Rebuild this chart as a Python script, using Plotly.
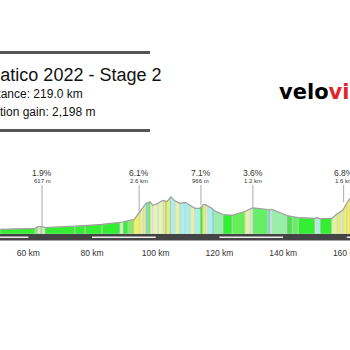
import plotly.graph_objects as go

# ---------------- data ----------------
km = [51.1, 62.1, 63.0, 63.7, 64.3, 65.2, 74.6, 77.8, 83.1, 88.8, 89.7, 91.3, 93.2, 95.1,
      96.0, 96.9, 97.6, 98.2, 99.1, 100.7, 102.3, 102.9, 103.5, 104.5, 104.8, 106.0, 107.6,
      109.2, 110.8, 112.3, 113.9, 114.8, 115.5, 116.4, 117.7, 118.3, 121.1, 124.0, 128.0,
      129.6, 130.5, 135.2, 135.9, 136.5, 141.2, 142.8, 144.7, 150.0, 150.6, 151.6, 155.3,
      156.9, 157.8, 158.8, 160.0, 161.0]
elev = [56, 68, 88, 90, 89, 78, 92, 101, 115, 140, 144, 161, 173, 272, 324, 366, 376, 386,
        344, 368, 404, 398, 388, 432, 446, 398, 368, 380, 348, 308, 308, 348, 354, 336, 306,
        282, 234, 224, 270, 300, 314, 294, 288, 296, 222, 210, 197, 188, 197, 185, 188, 240,
        264, 288, 372, 428]

BG, LG, PL, Y, PY, PY2 = "#33ee33", "#88e86a", "#d4eec4", "#f0f060", "#e4f2a6", "#e8f2bb"
C, C2, MG, G, G2, G3, LG2 = "#5cdada", "#a8f0ec", "#99eeaa", "#5ee85e", "#66ee55", "#50dd50", "#66ee66"
seg_colors = [BG, LG, PL, LG, PL, BG, BG, BG, BG, PL, BG, LG, Y, PY, Y, C, G, PY, PY2, PY2,
              Y, LG, Y, C, C2, PY, C2, C2, PY, C2, BG, Y, PL, C2, C, MG, BG, G2, PY, PL,
              LG2, C, PL, MG, G3, LG2, BG, PL, C2, BG, PY, Y, PL, Y, Y]

tick_km = [60, 80, 100, 120, 140, 160]
dash_starts = [40, 80, 120, 160]
dash_len = 20

grade_km = [64.3, 94.8, 114.2, 130.5, 159.0]
grade_elev = [89, 252, 348, 314, 380]
grade_pct = ["1.9%", "6.1%", "7.1%", "3.6%", "6.8%"]
grade_len = ["617 m", "2.6 km", "966 m", "1.2 km", "1.6 km"]

title = "Tirreno-Adriatico 2022 - Stage 2"
line_distance = "Distance: 219.0 km"
line_gain = "Elevation gain: 2,198 m"

# ---------------- layout helpers ----------------
W = H = 350
def px(x):
    return x / W
def py(y):
    return 1 - y / H

BASE_PX = 234.0
M_PER_PX = 12.0
PLOT_BOTTOM_PX = 240.5
y_bottom = -(PLOT_BOTTOM_PX - BASE_PX) * M_PER_PX
y_top = BASE_PX * M_PER_PX

fig = go.Figure()

# profile segments grouped by colour
groups = {}
for i, col in enumerate(seg_colors):
    xs = [km[i], km[i], km[i + 1], km[i + 1], km[i], None]
    ys = [0, elev[i], elev[i + 1], 0, 0, None]
    g = groups.setdefault(col, ([], []))
    g[0].extend(xs)
    g[1].extend(ys)
for col, (xs, ys) in groups.items():
    fig.add_trace(go.Scatter(x=xs, y=ys, mode="lines", fill="toself", fillcolor=col,
                             line=dict(color="rgba(205,205,205,0.9)", width=0.6),
                             hoverinfo="skip", showlegend=False))

fig.add_trace(go.Scatter(x=km, y=elev, mode="lines",
                         line=dict(color="#a0a0a0", width=1.2),
                         hoverinfo="skip", showlegend=False))

shapes = []
# bottom bar
shapes.append(dict(type="rect", xref="paper", yref="paper", x0=0, x1=1,
                   y0=py(PLOT_BOTTOM_PX), y1=py(BASE_PX), fillcolor="#444444",
                   line=dict(width=0), layer="above"))
for s in dash_starts:
    shapes.append(dict(type="line", xref="x", yref="paper", x0=s, x1=s + dash_len,
                       y0=py(237.3), y1=py(237.3), line=dict(color="#eeeeee", width=1.6),
                       layer="above"))
# title rules
for yy in (52.5, 130.5):
    shapes.append(dict(type="line", xref="paper", yref="paper", x0=0, x1=px(150),
                       y0=py(yy), y1=py(yy), line=dict(color="#555555", width=3)))
# grade markers
label_bottom_elev = (BASE_PX - 185) * M_PER_PX
for k, e in zip(grade_km, grade_elev):
    shapes.append(dict(type="line", xref="x", yref="y", x0=k, x1=k, y0=e,
                       y1=label_bottom_elev, line=dict(color="#aaaaaa", width=1)))

annotations = []
for k, p, l in zip(grade_km, grade_pct, grade_len):
    annotations.append(dict(x=k, xref="x", y=py(172.5), yref="paper", text=p,
                            showarrow=False, font=dict(size=8.5, color="#333333"),
                            xanchor="center", yanchor="middle"))
    annotations.append(dict(x=k, xref="x", y=py(181), yref="paper", text=l,
                            showarrow=False, font=dict(size=6, color="#333333"),
                            xanchor="center", yanchor="middle"))

annotations.append(dict(x=px(163), y=py(75), xref="paper", yref="paper", text=title,
                        showarrow=False, font=dict(size=18, color="#111111"),
                        xanchor="right", yanchor="middle"))
annotations.append(dict(x=px(85), y=py(94), xref="paper", yref="paper", text=line_distance,
                        showarrow=False, font=dict(size=12, color="#111111"),
                        xanchor="right", yanchor="middle"))
annotations.append(dict(x=px(97), y=py(112), xref="paper", yref="paper", text=line_gain,
                        showarrow=False, font=dict(size=12, color="#111111"),
                        xanchor="right", yanchor="middle"))
annotations.append(dict(x=px(278), y=py(91.5), xref="paper", yref="paper",
                        text="<b>velo</b><b><span style='color:#e3242b'>viewer</span></b>",
                        showarrow=False,
                        font=dict(size=21, color="#000000", family="DejaVu Sans"),
                        xanchor="left", yanchor="middle", borderpad=0))

fig.update_layout(
    width=W, height=H, margin=dict(l=0, r=0, t=0, b=0, autoexpand=False),
    paper_bgcolor="white", plot_bgcolor="white",
    font=dict(family="Liberation Sans, Arial, sans-serif"),
    xaxis=dict(range=[km[0], km[-1]], showgrid=False, zeroline=False, showline=False,
               ticks="", tickvals=tick_km, ticktext=[f"{t} km" for t in tick_km],
               tickfont=dict(size=8.5, color="#333333"), ticklabelstandoff=6,
               ticklabeloverflow="allow", automargin=False),
    yaxis=dict(range=[y_bottom, y_top], domain=[py(PLOT_BOTTOM_PX), 1], visible=False),
    shapes=shapes, annotations=annotations, showlegend=False,
)

fig.write_html("out.html")
